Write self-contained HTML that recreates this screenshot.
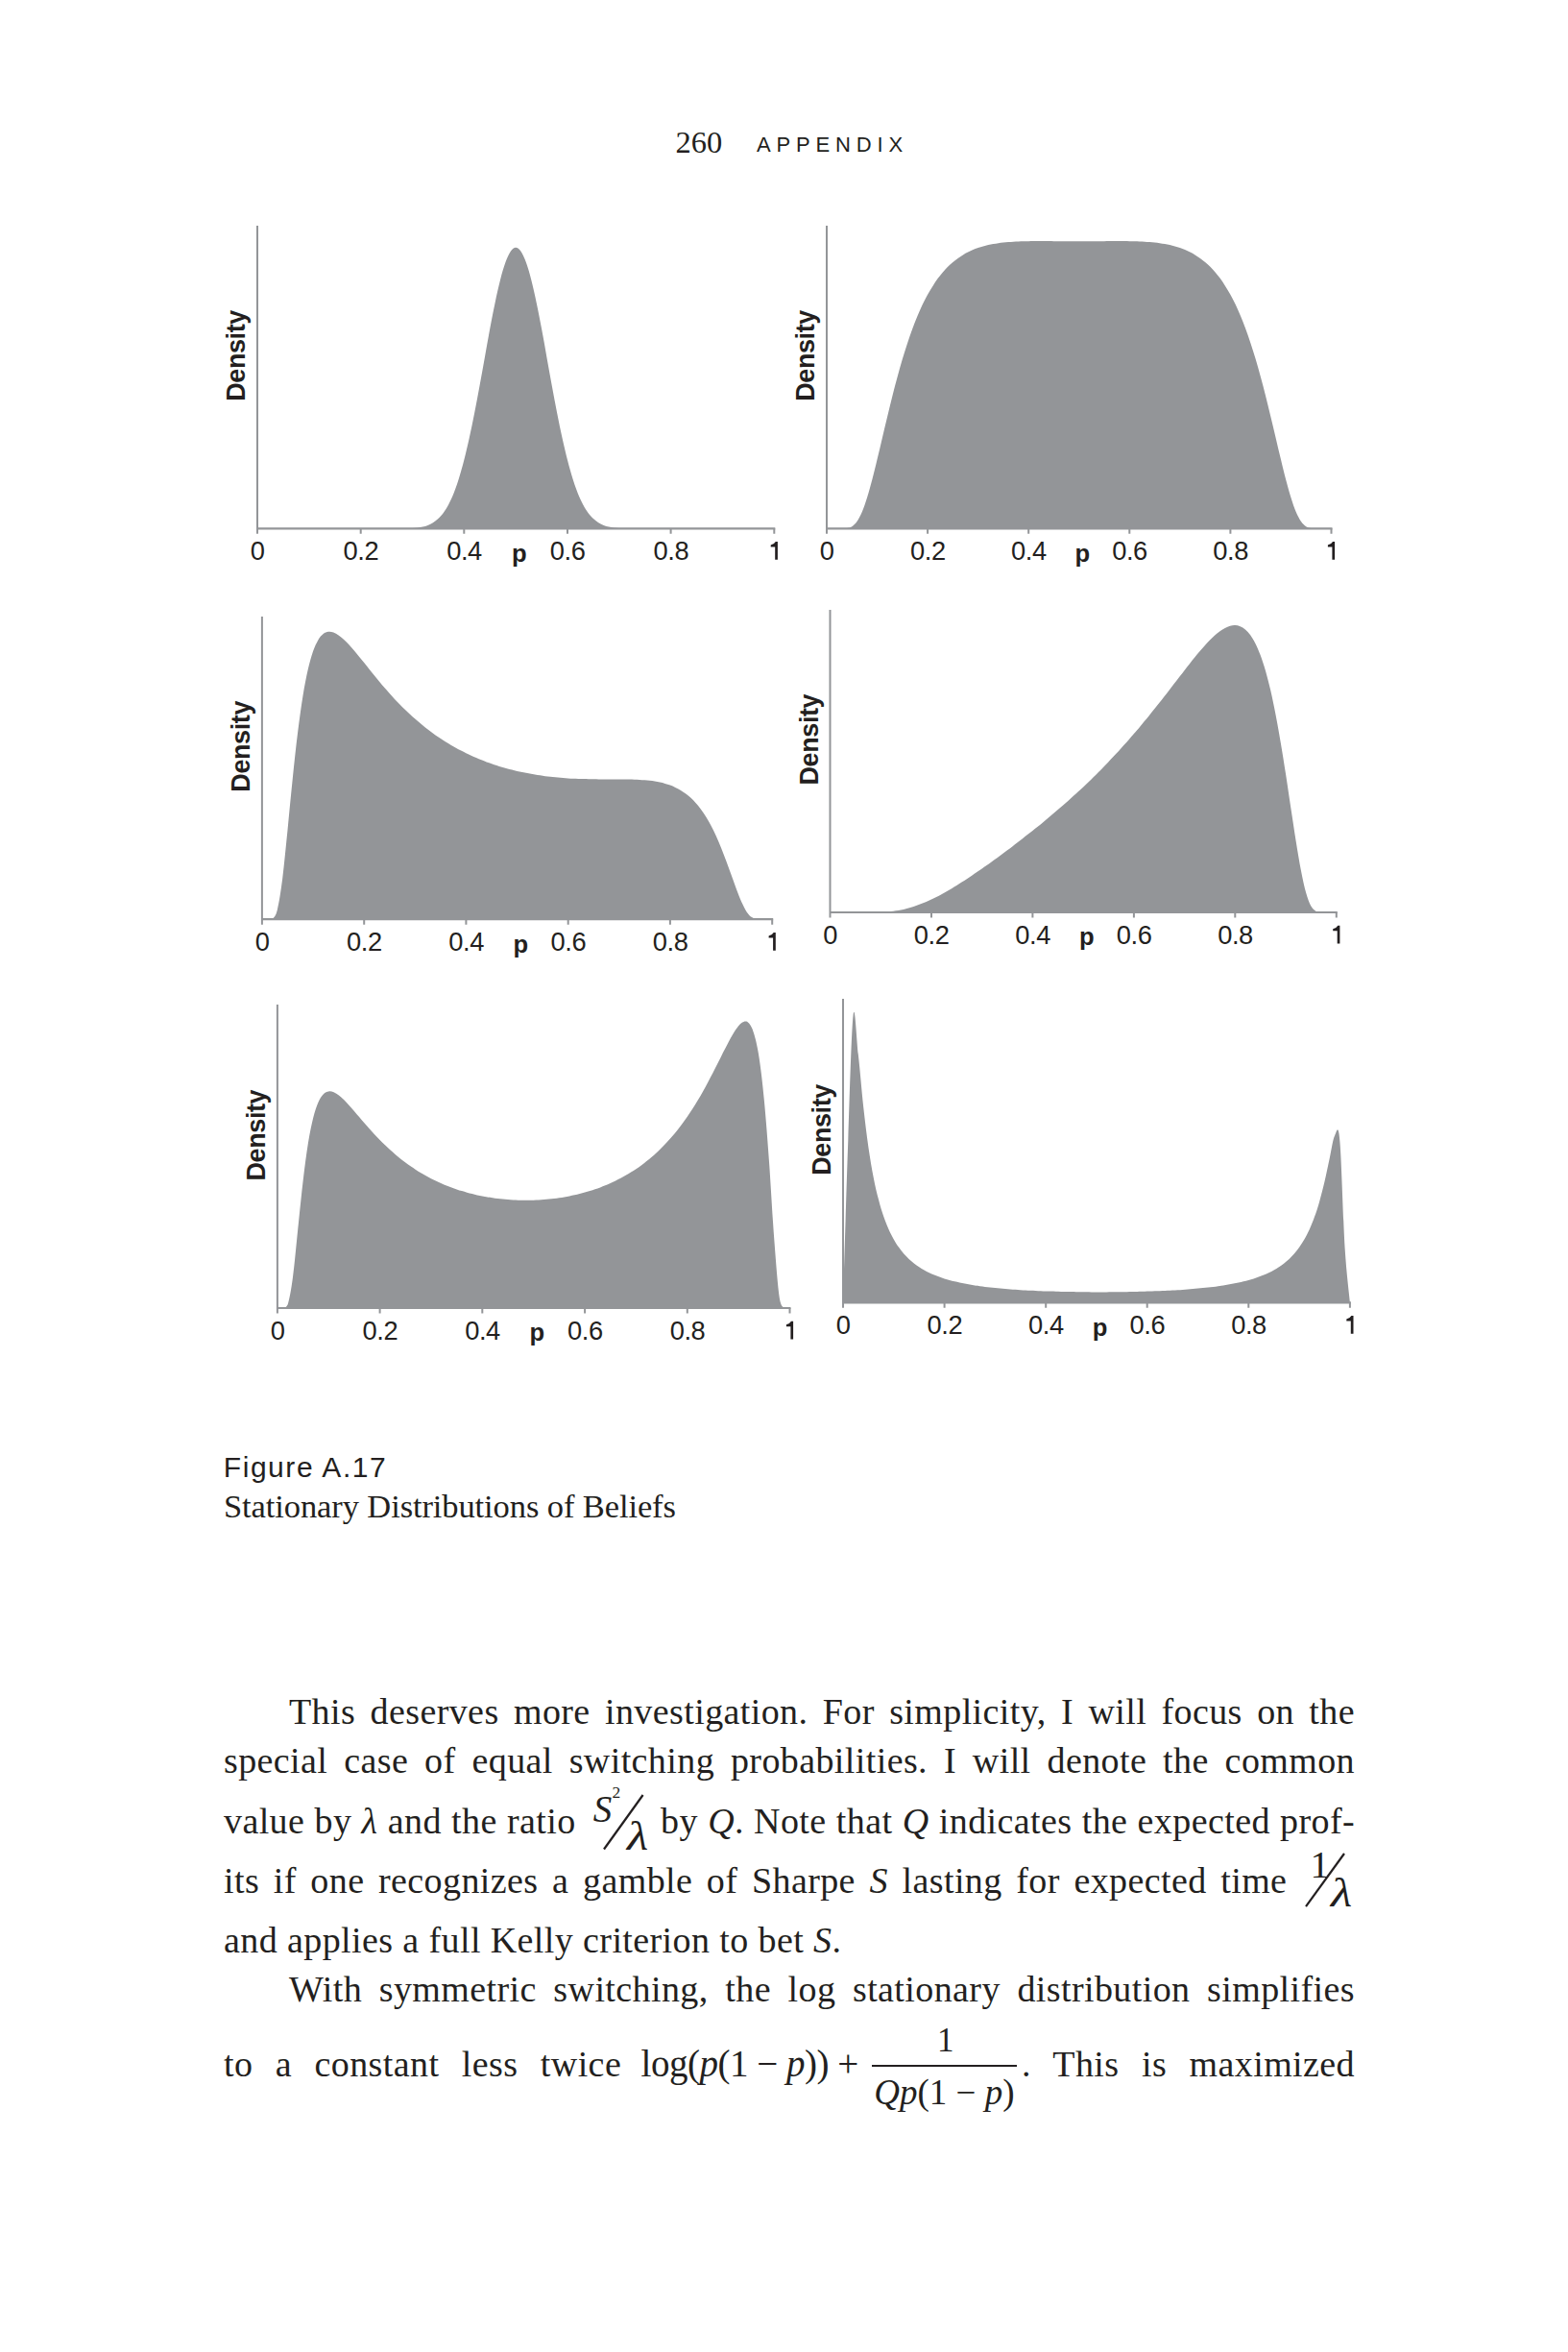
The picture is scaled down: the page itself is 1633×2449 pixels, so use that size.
<!DOCTYPE html>
<html><head><meta charset="utf-8">
<style>
html,body{margin:0;padding:0;background:#fff;}
body{width:1633px;height:2449px;position:relative;overflow:hidden;}
svg.page{position:absolute;left:0;top:0;}
.tk{font-family:"Liberation Sans",sans-serif;font-size:27.3px;letter-spacing:-0.4px;fill:#231f20;text-anchor:middle;}
.pl{font-family:"Liberation Sans",sans-serif;font-size:25.6px;font-weight:bold;fill:#231f20;text-anchor:middle;}
.dn{font-family:"Liberation Sans",sans-serif;font-size:27px;letter-spacing:-0.4px;font-weight:bold;fill:#231f20;}
.ab{position:absolute;white-space:nowrap;color:#231f20;}
.serif{font-family:"Liberation Serif",serif;}
.sans{font-family:"Liberation Sans",sans-serif;}
.ln{position:absolute;font-family:"Liberation Serif",serif;font-size:38px;line-height:38px;height:38px;letter-spacing:0.4px;color:#231f20;text-align:justify;text-align-last:justify;}
.ln.last{text-align:left;text-align-last:left;white-space:nowrap;}
i{font-style:italic;}
.ib{display:inline-block;position:relative;height:0;vertical-align:baseline;}
.mk{position:absolute;white-space:nowrap;}
</style></head><body>
<svg class="page" width="1633" height="2449" viewBox="0 0 1633 2449">
<path d="M268.0,550.3C268.9,550.3 271.6,550.3 273.4,550.3C275.2,550.3 277.0,550.3 278.8,550.3C280.6,550.3 282.4,550.3 284.1,550.3C285.9,550.3 287.7,550.3 289.5,550.3C291.3,550.3 293.1,550.3 294.9,550.3C296.7,550.3 298.5,550.3 300.3,550.3C302.1,550.3 303.9,550.3 305.7,550.3C307.5,550.3 309.3,550.3 311.1,550.3C312.9,550.3 314.7,550.3 316.4,550.3C318.2,550.3 320.0,550.3 321.8,550.3C323.6,550.3 325.4,550.3 327.2,550.3C329.0,550.3 330.8,550.3 332.6,550.3C334.4,550.3 336.2,550.3 338.0,550.3C339.8,550.3 341.6,550.3 343.4,550.3C345.2,550.3 347.0,550.3 348.7,550.3C350.5,550.3 352.3,550.3 354.1,550.3C355.9,550.3 357.7,550.3 359.5,550.3C361.3,550.3 363.1,550.3 364.9,550.3C366.7,550.3 368.5,550.3 370.3,550.3C372.1,550.3 373.9,550.3 375.7,550.3C377.5,550.3 379.2,550.3 381.0,550.3C382.8,550.3 384.6,550.3 386.4,550.3C388.2,550.3 390.0,550.3 391.8,550.3C393.6,550.3 395.4,550.3 397.2,550.3C399.0,550.3 400.8,550.3 402.6,550.3C404.4,550.3 406.2,550.3 408.0,550.3C409.8,550.3 411.5,550.3 413.3,550.3C415.1,550.3 416.9,550.2 418.7,550.2C420.5,550.2 422.3,550.2 424.1,550.1C425.9,550.0 427.7,550.0 429.5,549.9C431.3,549.7 433.1,549.6 434.9,549.4C436.7,549.1 438.5,548.9 440.3,548.5C442.1,548.0 443.8,547.6 445.6,546.9C447.4,546.2 449.2,545.4 451.0,544.2C452.8,543.1 454.6,541.8 456.4,540.1C458.2,538.4 460.0,536.5 461.8,534.0C463.6,531.6 465.4,528.8 467.2,525.3C469.0,521.9 470.8,518.1 472.6,513.6C474.3,509.0 476.1,504.0 477.9,498.2C479.7,492.5 481.5,486.1 483.3,479.1C485.1,472.1 486.9,464.5 488.7,456.3C490.5,448.2 492.3,439.4 494.1,430.3C495.9,421.2 497.7,411.5 499.5,401.8C501.3,392.1 503.1,381.9 504.9,372.0C506.6,362.2 508.4,352.1 510.2,342.6C512.0,333.1 513.8,323.7 515.6,315.2C517.4,306.6 519.2,298.5 521.0,291.5C522.8,284.5 524.6,278.2 526.4,273.3C528.2,268.3 530.0,264.3 531.8,261.7C533.6,259.2 535.4,257.8 537.1,257.8C538.9,257.8 540.7,259.2 542.5,261.7C544.3,264.3 546.1,268.3 547.9,273.3C549.7,278.2 551.5,284.5 553.3,291.5C555.1,298.5 556.9,306.6 558.7,315.2C560.5,323.7 562.3,333.1 564.1,342.6C565.9,352.1 567.7,362.2 569.4,372.0C571.2,381.9 573.0,392.1 574.8,401.8C576.6,411.5 578.4,421.2 580.2,430.3C582.0,439.4 583.8,448.2 585.6,456.3C587.4,464.5 589.2,472.1 591.0,479.1C592.8,486.1 594.6,492.5 596.4,498.2C598.2,504.0 600.0,509.0 601.7,513.6C603.5,518.1 605.3,521.9 607.1,525.3C608.9,528.8 610.7,531.6 612.5,534.0C614.3,536.5 616.1,538.4 617.9,540.1C619.7,541.8 621.5,543.1 623.3,544.2C625.1,545.4 626.9,546.2 628.7,546.9C630.5,547.6 632.2,548.0 634.0,548.5C635.8,548.9 637.6,549.1 639.4,549.4C641.2,549.6 643.0,549.7 644.8,549.9C646.6,550.0 648.4,550.0 650.2,550.1C652.0,550.2 653.8,550.2 655.6,550.2C657.4,550.2 659.2,550.3 661.0,550.3C662.8,550.3 664.5,550.3 666.3,550.3C668.1,550.3 669.9,550.3 671.7,550.3C673.5,550.3 675.3,550.3 677.1,550.3C678.9,550.3 680.7,550.3 682.5,550.3C684.3,550.3 686.1,550.3 687.9,550.3C689.7,550.3 691.5,550.3 693.3,550.3C695.1,550.3 696.8,550.3 698.6,550.3C700.4,550.3 702.2,550.3 704.0,550.3C705.8,550.3 707.6,550.3 709.4,550.3C711.2,550.3 713.0,550.3 714.8,550.3C716.6,550.3 718.4,550.3 720.2,550.3C722.0,550.3 723.8,550.3 725.6,550.3C727.3,550.3 729.1,550.3 730.9,550.3C732.7,550.3 734.5,550.3 736.3,550.3C738.1,550.3 739.9,550.3 741.7,550.3C743.5,550.3 745.3,550.3 747.1,550.3C748.9,550.3 750.7,550.3 752.5,550.3C754.3,550.3 756.1,550.3 757.9,550.3C759.6,550.3 761.4,550.3 763.2,550.3C765.0,550.3 766.8,550.3 768.6,550.3C770.4,550.3 772.2,550.3 774.0,550.3C775.8,550.3 777.6,550.3 779.4,550.3C781.2,550.3 783.0,550.3 784.8,550.3C786.6,550.3 788.4,550.3 790.2,550.3C791.9,550.3 793.7,550.3 795.5,550.3C797.3,550.3 799.1,550.3 800.9,550.3C802.7,550.3 805.4,550.3 806.3,550.3Z" fill="#939598"/>
<path d="M268.0,235.0V555.8" stroke="#939598" stroke-width="2" fill="none"/>
<path d="M268.0,550.3H807.3" stroke="#939598" stroke-width="2.2" fill="none"/>
<path d="M375.7,550.3V555.8M483.3,550.3V555.8M591.0,550.3V555.8M698.6,550.3V555.8M806.3,550.3V555.8" stroke="#939598" stroke-width="2" fill="none"/>
<text x="268.2" y="583.1" class="tk">0</text>
<text x="375.9" y="583.1" class="tk">0.2</text>
<text x="483.5" y="583.1" class="tk">0.4</text>
<text x="591.2" y="583.1" class="tk">0.6</text>
<text x="698.8" y="583.1" class="tk">0.8</text>
<path d="M807.2,582.8V569.6H802.7V567.6Q805.9,567.3 807.8,564.1H809.9V582.8Z" fill="#231f20"/>
<text x="540.9" y="584.6" class="pl">p</text>
<text transform="translate(255.0,417.8) rotate(-90)" class="dn">Density</text>
<path d="M861.0,550.3C861.9,550.3 864.5,550.3 866.3,550.3C868.0,550.3 869.8,550.3 871.5,550.3C873.3,550.3 875.0,550.3 876.8,550.3C878.5,550.2 880.3,550.3 882.0,550.0C883.8,549.7 885.5,549.4 887.3,548.3C889.0,547.1 890.8,545.6 892.5,543.1C894.3,540.5 896.0,537.2 897.8,533.1C899.5,528.9 901.3,523.8 903.0,518.2C904.8,512.7 906.5,506.2 908.3,499.6C910.0,493.0 911.8,485.7 913.5,478.5C915.3,471.3 917.1,463.7 918.8,456.3C920.6,448.9 922.3,441.4 924.1,434.1C925.8,426.9 927.6,419.7 929.3,412.7C931.1,405.8 932.8,399.0 934.6,392.6C936.3,386.2 938.1,380.0 939.8,374.1C941.6,368.2 943.3,362.6 945.1,357.3C946.8,352.0 948.6,346.9 950.3,342.2C952.1,337.5 953.8,333.0 955.6,328.8C957.3,324.7 959.1,320.8 960.8,317.1C962.6,313.4 964.3,310.0 966.1,306.8C967.9,303.6 969.6,300.6 971.4,297.9C973.1,295.1 974.9,292.5 976.6,290.1C978.4,287.7 980.1,285.6 981.9,283.5C983.6,281.4 985.4,279.6 987.1,277.8C988.9,276.1 990.6,274.5 992.4,273.0C994.1,271.5 995.9,270.1 997.6,268.9C999.4,267.6 1001.1,266.5 1002.9,265.4C1004.6,264.3 1006.4,263.4 1008.1,262.5C1009.9,261.6 1011.6,260.8 1013.4,260.1C1015.1,259.4 1016.9,258.7 1018.6,258.1C1020.4,257.5 1022.2,257.0 1023.9,256.5C1025.7,256.0 1027.4,255.5 1029.2,255.1C1030.9,254.8 1032.7,254.4 1034.4,254.1C1036.2,253.8 1037.9,253.5 1039.7,253.2C1041.4,253.0 1043.2,252.8 1044.9,252.6C1046.7,252.4 1048.4,252.2 1050.2,252.1C1051.9,252.0 1053.7,251.8 1055.4,251.7C1057.2,251.6 1058.9,251.5 1060.7,251.5C1062.4,251.4 1064.2,251.3 1065.9,251.3C1067.7,251.2 1069.4,251.2 1071.2,251.2C1073.0,251.2 1074.7,251.1 1076.5,251.1C1078.2,251.1 1080.0,251.1 1081.7,251.1C1083.5,251.1 1085.2,251.1 1087.0,251.1C1088.7,251.1 1090.5,251.1 1092.2,251.1C1094.0,251.1 1095.7,251.1 1097.5,251.2C1099.2,251.2 1101.0,251.2 1102.7,251.2C1104.5,251.2 1106.2,251.2 1108.0,251.2C1109.7,251.2 1111.5,251.2 1113.2,251.3C1115.0,251.3 1116.7,251.3 1118.5,251.3C1120.2,251.3 1122.0,251.3 1123.8,251.3C1125.5,251.3 1127.3,251.3 1129.0,251.3C1130.8,251.3 1132.5,251.3 1134.3,251.3C1136.0,251.2 1137.8,251.2 1139.5,251.2C1141.3,251.2 1143.0,251.2 1144.8,251.2C1146.5,251.2 1148.3,251.2 1150.0,251.2C1151.8,251.1 1153.5,251.1 1155.3,251.1C1157.0,251.1 1158.8,251.1 1160.5,251.1C1162.3,251.1 1164.0,251.1 1165.8,251.1C1167.5,251.1 1169.3,251.1 1171.0,251.1C1172.8,251.1 1174.5,251.2 1176.3,251.2C1178.1,251.2 1179.8,251.2 1181.6,251.3C1183.3,251.3 1185.1,251.4 1186.8,251.5C1188.6,251.5 1190.3,251.6 1192.1,251.7C1193.8,251.8 1195.6,252.0 1197.3,252.1C1199.1,252.2 1200.8,252.4 1202.6,252.6C1204.3,252.8 1206.1,253.0 1207.8,253.2C1209.6,253.5 1211.3,253.8 1213.1,254.1C1214.8,254.4 1216.6,254.8 1218.3,255.1C1220.1,255.5 1221.8,256.0 1223.6,256.5C1225.3,257.0 1227.1,257.5 1228.8,258.1C1230.6,258.7 1232.4,259.4 1234.1,260.1C1235.9,260.8 1237.6,261.6 1239.4,262.5C1241.1,263.4 1242.9,264.3 1244.6,265.4C1246.4,266.5 1248.1,267.6 1249.9,268.9C1251.6,270.1 1253.4,271.5 1255.1,273.0C1256.9,274.5 1258.6,276.1 1260.4,277.8C1262.1,279.6 1263.9,281.4 1265.6,283.5C1267.4,285.6 1269.1,287.7 1270.9,290.1C1272.6,292.5 1274.4,295.1 1276.1,297.9C1277.9,300.6 1279.6,303.6 1281.4,306.8C1283.2,310.0 1284.9,313.4 1286.7,317.1C1288.4,320.8 1290.2,324.7 1291.9,328.8C1293.7,333.0 1295.4,337.5 1297.2,342.2C1298.9,346.9 1300.7,352.0 1302.4,357.3C1304.2,362.6 1305.9,368.2 1307.7,374.1C1309.4,380.0 1311.2,386.2 1312.9,392.6C1314.7,399.0 1316.4,405.8 1318.2,412.7C1319.9,419.7 1321.7,426.9 1323.4,434.1C1325.2,441.4 1326.9,448.9 1328.7,456.3C1330.4,463.7 1332.2,471.3 1334.0,478.5C1335.7,485.7 1337.5,493.0 1339.2,499.6C1341.0,506.2 1342.7,512.7 1344.5,518.2C1346.2,523.8 1348.0,528.9 1349.7,533.1C1351.5,537.2 1353.2,540.5 1355.0,543.1C1356.7,545.6 1358.5,547.1 1360.2,548.3C1362.0,549.4 1363.7,549.7 1365.5,550.0C1367.2,550.3 1369.0,550.2 1370.7,550.3C1372.5,550.3 1374.2,550.3 1376.0,550.3C1377.7,550.3 1379.5,550.3 1381.2,550.3C1383.0,550.3 1385.6,550.3 1386.5,550.3Z" fill="#939598"/>
<path d="M861.0,235.0V555.8" stroke="#939598" stroke-width="2" fill="none"/>
<path d="M861.0,550.3H1387.5" stroke="#939598" stroke-width="2.2" fill="none"/>
<path d="M966.1,550.3V555.8M1071.2,550.3V555.8M1176.3,550.3V555.8M1281.4,550.3V555.8M1386.5,550.3V555.8" stroke="#939598" stroke-width="2" fill="none"/>
<text x="861.2" y="583.1" class="tk">0</text>
<text x="966.3" y="583.1" class="tk">0.2</text>
<text x="1071.4" y="583.1" class="tk">0.4</text>
<text x="1176.5" y="583.1" class="tk">0.6</text>
<text x="1281.6" y="583.1" class="tk">0.8</text>
<path d="M1387.4,582.8V569.6H1382.9V567.6Q1386.1,567.3 1388.0,564.1H1390.1V582.8Z" fill="#231f20"/>
<text x="1127.4" y="584.6" class="pl">p</text>
<text transform="translate(848.0,417.8) rotate(-90)" class="dn">Density</text>
<path d="M272.9,957.2C273.8,957.2 276.4,957.2 278.2,957.2C280.0,957.1 281.8,957.2 283.5,956.8C285.3,955.2 287.1,954.5 288.8,947.5C290.6,940.5 292.4,928.7 294.2,914.8C295.9,901.0 297.7,881.8 299.5,864.4C301.2,847.0 303.0,827.5 304.8,810.5C306.5,793.6 308.3,777.1 310.1,762.8C311.9,748.6 313.6,735.9 315.4,725.0C317.2,714.1 318.9,705.1 320.7,697.3C322.5,689.5 324.3,683.5 326.0,678.3C327.8,673.2 329.6,669.5 331.3,666.5C333.1,663.4 334.9,661.5 336.7,660.1C338.4,658.6 340.2,658.1 342.0,657.8C343.7,657.5 345.5,657.9 347.3,658.5C349.1,659.1 350.8,660.2 352.6,661.4C354.4,662.6 356.1,664.1 357.9,665.7C359.7,667.3 361.4,669.2 363.2,671.1C365.0,673.0 366.8,675.0 368.5,677.1C370.3,679.2 372.1,681.3 373.8,683.5C375.6,685.7 377.4,687.9 379.2,690.1C380.9,692.3 382.7,694.5 384.5,696.7C386.2,698.9 388.0,701.1 389.8,703.3C391.6,705.4 393.3,707.6 395.1,709.7C396.9,711.8 398.6,713.9 400.4,716.0C402.2,718.0 404.0,720.1 405.7,722.0C407.5,724.0 409.3,726.0 411.0,727.9C412.8,729.7 414.6,731.6 416.4,733.4C418.1,735.2 419.9,737.0 421.7,738.7C423.4,740.5 425.2,742.1 427.0,743.8C428.7,745.4 430.5,747.0 432.3,748.6C434.1,750.2 435.8,751.7 437.6,753.1C439.4,754.6 441.1,756.1 442.9,757.5C444.7,758.9 446.5,760.2 448.2,761.5C450.0,762.9 451.8,764.2 453.5,765.4C455.3,766.6 457.1,767.9 458.9,769.0C460.6,770.2 462.4,771.4 464.2,772.5C465.9,773.6 467.7,774.6 469.5,775.7C471.3,776.7 473.0,777.7 474.8,778.7C476.6,779.7 478.3,780.7 480.1,781.6C481.9,782.5 483.6,783.4 485.4,784.3C487.2,785.1 489.0,786.0 490.7,786.8C492.5,787.6 494.3,788.4 496.0,789.1C497.8,789.9 499.6,790.6 501.4,791.3C503.1,792.0 504.9,792.7 506.7,793.4C508.4,794.0 510.2,794.7 512.0,795.3C513.8,795.9 515.5,796.5 517.3,797.0C519.1,797.6 520.8,798.2 522.6,798.7C524.4,799.2 526.2,799.7 527.9,800.2C529.7,800.7 531.5,801.2 533.2,801.6C535.0,802.0 536.8,802.5 538.5,802.9C540.3,803.3 542.1,803.7 543.9,804.1C545.6,804.4 547.4,804.8 549.2,805.1C550.9,805.5 552.7,805.8 554.5,806.1C556.3,806.4 558.0,806.7 559.8,807.0C561.6,807.2 563.3,807.5 565.1,807.7C566.9,808.0 568.7,808.2 570.4,808.4C572.2,808.6 574.0,808.8 575.7,809.0C577.5,809.2 579.3,809.4 581.1,809.6C582.8,809.7 584.6,809.9 586.4,810.0C588.1,810.1 589.9,810.3 591.7,810.4C593.5,810.5 595.2,810.6 597.0,810.7C598.8,810.8 600.5,810.8 602.3,810.9C604.1,811.0 605.8,811.0 607.6,811.1C609.4,811.1 611.2,811.2 612.9,811.2C614.7,811.3 616.5,811.3 618.2,811.3C620.0,811.3 621.8,811.3 623.6,811.4C625.3,811.4 627.1,811.4 628.9,811.4C630.6,811.4 632.4,811.4 634.2,811.4C636.0,811.4 637.7,811.4 639.5,811.4C641.3,811.4 643.0,811.4 644.8,811.4C646.6,811.4 648.4,811.4 650.1,811.4C651.9,811.5 653.7,811.5 655.4,811.5C657.2,811.6 659.0,811.6 660.7,811.7C662.5,811.7 664.3,811.8 666.1,811.9C667.8,812.0 669.6,812.1 671.4,812.3C673.1,812.4 674.9,812.6 676.7,812.8C678.5,813.0 680.2,813.3 682.0,813.6C683.8,813.8 685.5,814.2 687.3,814.6C689.1,815.0 690.9,815.4 692.6,815.9C694.4,816.4 696.2,817.0 697.9,817.6C699.7,818.3 701.5,819.0 703.3,819.9C705.0,820.7 706.8,821.6 708.6,822.7C710.3,823.7 712.1,824.9 713.9,826.2C715.7,827.5 717.4,828.9 719.2,830.6C721.0,832.2 722.7,833.9 724.5,835.9C726.3,837.9 728.0,840.0 729.8,842.4C731.6,844.8 733.4,847.4 735.1,850.3C736.9,853.1 738.7,856.2 740.4,859.6C742.2,862.9 744.0,866.5 745.8,870.4C747.5,874.3 749.3,878.5 751.1,882.9C752.8,887.2 754.6,891.9 756.4,896.7C758.2,901.4 759.9,906.4 761.7,911.3C763.5,916.2 765.2,921.4 767.0,926.0C768.8,930.7 770.6,935.4 772.3,939.2C774.1,943.1 775.9,946.7 777.6,949.4C779.4,952.0 781.2,953.9 782.9,955.1C784.7,956.4 786.5,956.7 788.3,957.0C790.0,957.2 791.8,957.2 793.6,957.2C795.3,957.2 797.1,957.2 798.9,957.2C800.7,957.2 803.3,957.2 804.2,957.2Z" fill="#939598"/>
<path d="M272.9,642.0V962.7" stroke="#939598" stroke-width="2" fill="none"/>
<path d="M272.9,957.2H805.2" stroke="#939598" stroke-width="2.2" fill="none"/>
<path d="M379.2,957.2V962.7M485.4,957.2V962.7M591.7,957.2V962.7M697.9,957.2V962.7M804.2,957.2V962.7" stroke="#939598" stroke-width="2" fill="none"/>
<text x="273.1" y="990.0" class="tk">0</text>
<text x="379.4" y="990.0" class="tk">0.2</text>
<text x="485.6" y="990.0" class="tk">0.4</text>
<text x="591.9" y="990.0" class="tk">0.6</text>
<text x="698.1" y="990.0" class="tk">0.8</text>
<path d="M805.1,989.7V976.5H800.6V974.5Q803.8,974.2 805.7,971.0H807.8V989.7Z" fill="#231f20"/>
<text x="542.3" y="991.5" class="pl">p</text>
<text transform="translate(259.9,824.7) rotate(-90)" class="dn">Density</text>
<path d="M864.5,950.0C865.4,950.0 868.0,950.0 869.8,950.0C871.5,950.0 873.3,950.0 875.0,950.0C876.8,950.0 878.6,950.0 880.3,950.0C882.1,950.0 883.8,950.0 885.6,950.0C887.3,950.0 889.1,950.0 890.9,950.0C892.6,950.0 894.4,950.0 896.1,950.0C897.9,950.0 899.7,950.0 901.4,950.0C903.2,950.0 904.9,950.0 906.7,950.0C908.4,950.0 910.2,949.9 912.0,949.9C913.7,949.9 915.5,949.8 917.2,949.7C919.0,949.7 920.7,949.6 922.5,949.5C924.3,949.3 926.0,949.2 927.8,949.0C929.5,948.8 931.3,948.6 933.0,948.3C934.8,948.0 936.6,947.7 938.3,947.4C940.1,947.0 941.8,946.7 943.6,946.2C945.4,945.8 947.1,945.3 948.9,944.8C950.6,944.3 952.4,943.7 954.1,943.1C955.9,942.5 957.7,941.8 959.4,941.1C961.2,940.4 962.9,939.7 964.7,939.0C966.4,938.2 968.2,937.4 970.0,936.6C971.7,935.7 973.5,934.9 975.2,934.0C977.0,933.1 978.7,932.1 980.5,931.2C982.3,930.2 984.0,929.2 985.8,928.2C987.5,927.2 989.3,926.2 991.1,925.2C992.8,924.1 994.6,923.0 996.3,922.0C998.1,920.9 999.8,919.8 1001.6,918.6C1003.4,917.5 1005.1,916.4 1006.9,915.2C1008.6,914.1 1010.4,912.9 1012.1,911.7C1013.9,910.5 1015.7,909.3 1017.4,908.1C1019.2,906.9 1020.9,905.7 1022.7,904.5C1024.4,903.2 1026.2,902.0 1028.0,900.8C1029.7,899.5 1031.5,898.3 1033.2,897.0C1035.0,895.7 1036.8,894.4 1038.5,893.2C1040.3,891.9 1042.0,890.6 1043.8,889.3C1045.5,888.0 1047.3,886.7 1049.1,885.3C1050.8,884.0 1052.6,882.7 1054.3,881.4C1056.1,880.0 1057.8,878.7 1059.6,877.3C1061.4,876.0 1063.1,874.6 1064.9,873.3C1066.6,871.9 1068.4,870.5 1070.1,869.1C1071.9,867.7 1073.7,866.3 1075.4,864.9C1077.2,863.5 1078.9,862.1 1080.7,860.7C1082.5,859.3 1084.2,857.8 1086.0,856.4C1087.7,855.0 1089.5,853.5 1091.2,852.0C1093.0,850.6 1094.8,849.1 1096.5,847.6C1098.3,846.1 1100.0,844.6 1101.8,843.1C1103.5,841.6 1105.3,840.1 1107.1,838.5C1108.8,837.0 1110.6,835.4 1112.3,833.9C1114.1,832.3 1115.8,830.7 1117.6,829.1C1119.4,827.5 1121.1,825.9 1122.9,824.3C1124.6,822.7 1126.4,821.0 1128.2,819.4C1129.9,817.7 1131.7,816.1 1133.4,814.4C1135.2,812.7 1136.9,811.0 1138.7,809.2C1140.5,807.5 1142.2,805.8 1144.0,804.0C1145.7,802.3 1147.5,800.5 1149.2,798.7C1151.0,796.9 1152.8,795.1 1154.5,793.2C1156.3,791.4 1158.0,789.5 1159.8,787.6C1161.5,785.8 1163.3,783.9 1165.1,782.0C1166.8,780.0 1168.6,778.1 1170.3,776.1C1172.1,774.2 1173.8,772.2 1175.6,770.2C1177.4,768.2 1179.1,766.2 1180.9,764.1C1182.6,762.1 1184.4,760.0 1186.2,757.9C1187.9,755.8 1189.7,753.7 1191.4,751.6C1193.2,749.5 1194.9,747.3 1196.7,745.2C1198.5,743.0 1200.2,740.8 1202.0,738.6C1203.7,736.4 1205.5,734.2 1207.2,732.0C1209.0,729.7 1210.8,727.5 1212.5,725.2C1214.3,723.0 1216.0,720.7 1217.8,718.4C1219.5,716.2 1221.3,713.9 1223.1,711.6C1224.8,709.3 1226.6,707.0 1228.3,704.7C1230.1,702.5 1231.9,700.2 1233.6,697.9C1235.4,695.7 1237.1,693.4 1238.9,691.2C1240.6,689.0 1242.4,686.8 1244.2,684.6C1245.9,682.5 1247.7,680.3 1249.4,678.3C1251.2,676.2 1252.9,674.2 1254.7,672.2C1256.5,670.3 1258.2,668.4 1260.0,666.6C1261.7,664.9 1263.5,663.2 1265.2,661.6C1267.0,660.1 1268.8,658.6 1270.5,657.3C1272.3,656.1 1274.0,654.9 1275.8,654.0C1277.6,653.1 1279.3,652.3 1281.1,651.8C1282.8,651.3 1284.6,651.0 1286.3,651.1C1288.1,651.2 1289.9,651.5 1291.6,652.2C1293.4,652.9 1295.1,653.9 1296.9,655.4C1298.6,656.9 1300.4,658.8 1302.2,661.2C1303.9,663.6 1305.7,666.5 1307.4,670.0C1309.2,673.5 1310.9,677.6 1312.7,682.3C1314.5,687.1 1316.2,692.5 1318.0,698.6C1319.7,704.7 1321.5,711.5 1323.3,719.1C1325.0,726.7 1326.8,735.1 1328.5,744.1C1330.3,753.2 1332.0,763.1 1333.8,773.4C1335.6,783.8 1337.3,795.0 1339.1,806.3C1340.8,817.5 1342.6,829.6 1344.3,841.1C1346.1,852.7 1347.9,864.7 1349.6,875.6C1351.4,886.5 1353.1,897.3 1354.9,906.3C1356.6,915.3 1358.4,923.5 1360.2,929.7C1361.9,935.9 1363.7,940.4 1365.4,943.6C1367.2,946.8 1369.0,947.9 1370.7,949.0C1372.5,950.0 1374.2,949.8 1376.0,950.0C1377.7,950.0 1379.5,950.0 1381.3,950.0C1383.0,950.0 1384.8,950.0 1386.5,950.0C1388.3,950.0 1390.9,950.0 1391.8,950.0Z" fill="#939598"/>
<path d="M864.5,635.0V955.5" stroke="#939598" stroke-width="2" fill="none"/>
<path d="M864.5,950.0H1392.8" stroke="#939598" stroke-width="2.2" fill="none"/>
<path d="M970.0,950.0V955.5M1075.4,950.0V955.5M1180.9,950.0V955.5M1286.3,950.0V955.5M1391.8,950.0V955.5" stroke="#939598" stroke-width="2" fill="none"/>
<text x="864.7" y="982.8" class="tk">0</text>
<text x="970.2" y="982.8" class="tk">0.2</text>
<text x="1075.6" y="982.8" class="tk">0.4</text>
<text x="1181.1" y="982.8" class="tk">0.6</text>
<text x="1286.5" y="982.8" class="tk">0.8</text>
<path d="M1392.7,982.5V969.3H1388.2V967.3Q1391.4,967.0 1393.3,963.8H1395.4V982.5Z" fill="#231f20"/>
<text x="1131.8" y="984.3" class="pl">p</text>
<text transform="translate(851.5,817.5) rotate(-90)" class="dn">Density</text>
<path d="M288.9,1362.0C289.8,1362.0 292.5,1362.0 294.2,1362.0C296.0,1361.4 297.8,1362.0 299.6,1358.6C301.4,1353.3 303.1,1343.6 304.9,1330.5C306.7,1317.4 308.5,1297.0 310.2,1280.2C312.0,1263.3 313.8,1244.6 315.6,1229.7C317.4,1214.7 319.1,1201.3 320.9,1190.3C322.7,1179.2 324.5,1170.7 326.3,1163.5C328.0,1156.4 329.8,1151.5 331.6,1147.4C333.4,1143.4 335.1,1141.0 336.9,1139.2C338.7,1137.3 340.5,1136.7 342.3,1136.4C344.0,1136.1 345.8,1136.6 347.6,1137.3C349.4,1138.0 351.2,1139.2 352.9,1140.6C354.7,1141.9 356.5,1143.6 358.3,1145.3C360.0,1147.0 361.8,1149.0 363.6,1150.9C365.4,1152.9 367.2,1155.0 368.9,1157.0C370.7,1159.1 372.5,1161.2 374.3,1163.2C376.1,1165.3 377.8,1167.4 379.6,1169.5C381.4,1171.5 383.2,1173.5 384.9,1175.5C386.7,1177.5 388.5,1179.5 390.3,1181.4C392.1,1183.3 393.8,1185.2 395.6,1187.0C397.4,1188.8 399.2,1190.6 401.0,1192.3C402.7,1194.0 404.5,1195.7 406.3,1197.3C408.1,1198.9 409.8,1200.4 411.6,1202.0C413.4,1203.5 415.2,1204.9 417.0,1206.4C418.7,1207.8 420.5,1209.2 422.3,1210.5C424.1,1211.8 425.9,1213.1 427.6,1214.3C429.4,1215.6 431.2,1216.7 433.0,1217.9C434.8,1219.0 436.5,1220.1 438.3,1221.2C440.1,1222.3 441.9,1223.3 443.6,1224.3C445.4,1225.3 447.2,1226.2 449.0,1227.2C450.8,1228.1 452.5,1228.9 454.3,1229.8C456.1,1230.6 457.9,1231.5 459.7,1232.2C461.4,1233.0 463.2,1233.8 465.0,1234.5C466.8,1235.2 468.5,1235.9 470.3,1236.5C472.1,1237.2 473.9,1237.8 475.7,1238.4C477.4,1239.0 479.2,1239.6 481.0,1240.1C482.8,1240.7 484.6,1241.2 486.3,1241.7C488.1,1242.2 489.9,1242.7 491.7,1243.1C493.4,1243.5 495.2,1244.0 497.0,1244.4C498.8,1244.8 500.6,1245.1 502.3,1245.5C504.1,1245.8 505.9,1246.2 507.7,1246.5C509.5,1246.8 511.2,1247.0 513.0,1247.3C514.8,1247.6 516.6,1247.8 518.3,1248.0C520.1,1248.3 521.9,1248.5 523.7,1248.6C525.5,1248.8 527.2,1249.0 529.0,1249.1C530.8,1249.2 532.6,1249.4 534.4,1249.5C536.1,1249.6 537.9,1249.6 539.7,1249.7C541.5,1249.8 543.2,1249.8 545.0,1249.8C546.8,1249.8 548.6,1249.8 550.4,1249.8C552.1,1249.8 553.9,1249.8 555.7,1249.7C557.5,1249.6 559.3,1249.6 561.0,1249.5C562.8,1249.4 564.6,1249.2 566.4,1249.1C568.2,1249.0 569.9,1248.8 571.7,1248.6C573.5,1248.4 575.3,1248.2 577.0,1248.0C578.8,1247.8 580.6,1247.6 582.4,1247.3C584.2,1247.0 585.9,1246.7 587.7,1246.4C589.5,1246.1 591.3,1245.8 593.1,1245.4C594.8,1245.1 596.6,1244.7 598.4,1244.3C600.2,1243.9 601.9,1243.5 603.7,1243.0C605.5,1242.6 607.3,1242.1 609.1,1241.6C610.8,1241.1 612.6,1240.6 614.4,1240.0C616.2,1239.5 618.0,1238.9 619.7,1238.3C621.5,1237.7 623.3,1237.0 625.1,1236.4C626.8,1235.7 628.6,1235.0 630.4,1234.3C632.2,1233.5 634.0,1232.8 635.7,1232.0C637.5,1231.2 639.3,1230.3 641.1,1229.5C642.9,1228.6 644.6,1227.7 646.4,1226.8C648.2,1225.8 650.0,1224.8 651.7,1223.8C653.5,1222.8 655.3,1221.7 657.1,1220.6C658.9,1219.5 660.6,1218.4 662.4,1217.2C664.2,1216.0 666.0,1214.7 667.8,1213.4C669.5,1212.1 671.3,1210.8 673.1,1209.3C674.9,1207.9 676.6,1206.5 678.4,1205.0C680.2,1203.4 682.0,1201.9 683.8,1200.2C685.5,1198.6 687.3,1196.9 689.1,1195.1C690.9,1193.3 692.7,1191.5 694.4,1189.6C696.2,1187.7 698.0,1185.7 699.8,1183.6C701.6,1181.5 703.3,1179.4 705.1,1177.2C706.9,1174.9 708.7,1172.6 710.4,1170.2C712.2,1167.8 714.0,1165.3 715.8,1162.7C717.6,1160.2 719.3,1157.5 721.1,1154.7C722.9,1151.9 724.7,1149.1 726.5,1146.1C728.2,1143.2 730.0,1140.1 731.8,1136.9C733.6,1133.8 735.3,1130.6 737.1,1127.2C738.9,1123.9 740.7,1120.5 742.5,1117.1C744.2,1113.6 746.0,1110.0 747.8,1106.5C749.6,1103.0 751.4,1099.4 753.1,1095.8C754.9,1092.3 756.7,1088.8 758.5,1085.4C760.2,1082.1 762.0,1078.8 763.8,1075.9C765.6,1073.0 767.4,1070.2 769.1,1068.2C770.9,1066.2 772.7,1064.4 774.5,1063.9C776.3,1063.4 778.0,1063.3 779.8,1065.3C781.6,1067.3 783.4,1070.1 785.1,1076.0C786.9,1081.9 788.7,1089.2 790.5,1100.7C792.3,1112.3 794.0,1126.5 795.8,1145.2C797.6,1163.8 799.4,1187.8 801.2,1212.5C802.9,1237.2 804.7,1270.1 806.5,1293.3C808.3,1316.4 810.0,1340.0 811.8,1351.5C813.6,1362.0 815.4,1360.2 817.2,1362.0C818.9,1362.0 821.6,1362.0 822.5,1362.0Z" fill="#939598"/>
<path d="M288.9,1046.0V1367.5" stroke="#939598" stroke-width="2" fill="none"/>
<path d="M288.9,1362.0H823.5" stroke="#939598" stroke-width="2.2" fill="none"/>
<path d="M395.6,1362.0V1367.5M502.3,1362.0V1367.5M609.1,1362.0V1367.5M715.8,1362.0V1367.5M822.5,1362.0V1367.5" stroke="#939598" stroke-width="2" fill="none"/>
<text x="289.1" y="1394.8" class="tk">0</text>
<text x="395.8" y="1394.8" class="tk">0.2</text>
<text x="502.5" y="1394.8" class="tk">0.4</text>
<text x="609.3" y="1394.8" class="tk">0.6</text>
<text x="716.0" y="1394.8" class="tk">0.8</text>
<path d="M823.4,1394.5V1381.3H818.9V1379.3Q822.1,1379.0 824.0,1375.8H826.1V1394.5Z" fill="#231f20"/>
<text x="559.4" y="1396.3" class="pl">p</text>
<text transform="translate(275.9,1229.5) rotate(-90)" class="dn">Density</text>
<path d="M878.0,1356.3C878.9,1328.1 881.5,1237.1 883.3,1187.2C885.0,1137.3 886.8,1071.8 888.6,1056.9C890.3,1042.0 892.1,1082.0 893.8,1097.8C895.6,1113.6 897.4,1135.6 899.1,1151.7C900.9,1167.8 902.6,1182.0 904.4,1194.4C906.2,1206.7 907.9,1216.7 909.7,1225.9C911.4,1235.0 913.2,1242.3 915.0,1249.1C916.7,1255.9 918.5,1261.5 920.2,1266.6C922.0,1271.7 923.8,1276.0 925.5,1280.0C927.3,1284.0 929.0,1287.3 930.8,1290.4C932.5,1293.6 934.3,1296.2 936.1,1298.7C937.8,1301.2 939.6,1303.4 941.3,1305.4C943.1,1307.4 944.9,1309.2 946.6,1310.9C948.4,1312.6 950.1,1314.0 951.9,1315.4C953.7,1316.8 955.4,1318.1 957.2,1319.2C958.9,1320.4 960.7,1321.4 962.5,1322.4C964.2,1323.4 966.0,1324.3 967.7,1325.2C969.5,1326.0 971.3,1326.8 973.0,1327.5C974.8,1328.3 976.5,1328.9 978.3,1329.6C980.1,1330.2 981.8,1330.8 983.6,1331.4C985.3,1331.9 987.1,1332.4 988.9,1332.9C990.6,1333.4 992.4,1333.9 994.1,1334.3C995.9,1334.7 997.7,1335.1 999.4,1335.5C1001.2,1335.9 1002.9,1336.2 1004.7,1336.6C1006.5,1336.9 1008.2,1337.2 1010.0,1337.6C1011.7,1337.9 1013.5,1338.1 1015.3,1338.4C1017.0,1338.7 1018.8,1338.9 1020.5,1339.2C1022.3,1339.4 1024.1,1339.7 1025.8,1339.9C1027.6,1340.1 1029.3,1340.3 1031.1,1340.5C1032.9,1340.7 1034.6,1340.9 1036.4,1341.1C1038.1,1341.3 1039.9,1341.4 1041.6,1341.6C1043.4,1341.7 1045.2,1341.9 1046.9,1342.0C1048.7,1342.2 1050.4,1342.3 1052.2,1342.5C1054.0,1342.6 1055.7,1342.7 1057.5,1342.8C1059.2,1343.0 1061.0,1343.1 1062.8,1343.2C1064.5,1343.3 1066.3,1343.4 1068.0,1343.5C1069.8,1343.6 1071.6,1343.7 1073.3,1343.8C1075.1,1343.9 1076.8,1343.9 1078.6,1344.0C1080.4,1344.1 1082.1,1344.2 1083.9,1344.2C1085.6,1344.3 1087.4,1344.4 1089.2,1344.4C1090.9,1344.5 1092.7,1344.6 1094.4,1344.6C1096.2,1344.7 1098.0,1344.7 1099.7,1344.8C1101.5,1344.8 1103.2,1344.9 1105.0,1344.9C1106.8,1345.0 1108.5,1345.0 1110.3,1345.0C1112.0,1345.1 1113.8,1345.1 1115.6,1345.1C1117.3,1345.2 1119.1,1345.2 1120.8,1345.2C1122.6,1345.2 1124.4,1345.3 1126.1,1345.3C1127.9,1345.3 1129.6,1345.3 1131.4,1345.3C1133.2,1345.4 1134.9,1345.4 1136.7,1345.4C1138.4,1345.4 1140.2,1345.4 1142.0,1345.4C1143.7,1345.4 1145.5,1345.4 1147.2,1345.4C1149.0,1345.4 1150.7,1345.4 1152.5,1345.4C1154.3,1345.4 1156.0,1345.4 1157.8,1345.3C1159.5,1345.3 1161.3,1345.3 1163.1,1345.3C1164.8,1345.3 1166.6,1345.3 1168.3,1345.2C1170.1,1345.2 1171.9,1345.2 1173.6,1345.2C1175.4,1345.1 1177.1,1345.1 1178.9,1345.1C1180.7,1345.0 1182.4,1345.0 1184.2,1344.9C1185.9,1344.9 1187.7,1344.8 1189.5,1344.8C1191.2,1344.8 1193.0,1344.7 1194.7,1344.6C1196.5,1344.6 1198.3,1344.5 1200.0,1344.5C1201.8,1344.4 1203.5,1344.3 1205.3,1344.3C1207.1,1344.2 1208.8,1344.1 1210.6,1344.0C1212.3,1344.0 1214.1,1343.9 1215.9,1343.8C1217.6,1343.7 1219.4,1343.6 1221.1,1343.5C1222.9,1343.4 1224.7,1343.3 1226.4,1343.2C1228.2,1343.1 1229.9,1343.0 1231.7,1342.9C1233.5,1342.7 1235.2,1342.6 1237.0,1342.5C1238.7,1342.4 1240.5,1342.2 1242.3,1342.1C1244.0,1341.9 1245.8,1341.8 1247.5,1341.6C1249.3,1341.5 1251.0,1341.3 1252.8,1341.1C1254.6,1340.9 1256.3,1340.7 1258.1,1340.5C1259.8,1340.3 1261.6,1340.1 1263.4,1339.9C1265.1,1339.7 1266.9,1339.5 1268.6,1339.2C1270.4,1339.0 1272.2,1338.7 1273.9,1338.4C1275.7,1338.2 1277.4,1337.9 1279.2,1337.6C1281.0,1337.3 1282.7,1337.0 1284.5,1336.6C1286.2,1336.3 1288.0,1335.9 1289.8,1335.5C1291.5,1335.2 1293.3,1334.8 1295.0,1334.3C1296.8,1333.9 1298.6,1333.4 1300.3,1333.0C1302.1,1332.5 1303.8,1331.9 1305.6,1331.4C1307.4,1330.8 1309.1,1330.2 1310.9,1329.6C1312.6,1329.0 1314.4,1328.3 1316.2,1327.6C1317.9,1326.8 1319.7,1326.0 1321.4,1325.2C1323.2,1324.3 1325.0,1323.4 1326.7,1322.4C1328.5,1321.4 1330.2,1320.4 1332.0,1319.2C1333.8,1318.0 1335.5,1316.8 1337.3,1315.4C1339.0,1314.0 1340.8,1312.5 1342.6,1310.9C1344.3,1309.2 1346.1,1307.4 1347.8,1305.4C1349.6,1303.3 1351.4,1301.2 1353.1,1298.7C1354.9,1296.2 1356.6,1293.6 1358.4,1290.5C1360.1,1287.4 1361.9,1284.1 1363.7,1280.2C1365.4,1276.4 1367.2,1272.2 1368.9,1267.3C1370.7,1262.4 1372.5,1257.1 1374.2,1250.9C1376.0,1244.7 1377.7,1237.8 1379.5,1230.3C1381.3,1222.7 1383.0,1213.7 1384.8,1205.7C1386.5,1197.7 1388.3,1185.4 1390.1,1182.4C1391.8,1179.4 1393.6,1168.0 1395.3,1187.5C1397.1,1207.1 1398.9,1271.5 1400.6,1299.6C1402.4,1327.7 1405.0,1346.9 1405.9,1356.3Z" fill="#939598"/>
<path d="M878.0,1040.0V1361.8" stroke="#939598" stroke-width="2" fill="none"/>
<path d="M878.0,1356.3H1406.9" stroke="#939598" stroke-width="2.2" fill="none"/>
<path d="M983.6,1356.3V1361.8M1089.2,1356.3V1361.8M1194.7,1356.3V1361.8M1300.3,1356.3V1361.8M1405.9,1356.3V1361.8" stroke="#939598" stroke-width="2" fill="none"/>
<text x="878.2" y="1389.1" class="tk">0</text>
<text x="983.8" y="1389.1" class="tk">0.2</text>
<text x="1089.4" y="1389.1" class="tk">0.4</text>
<text x="1194.9" y="1389.1" class="tk">0.6</text>
<text x="1300.5" y="1389.1" class="tk">0.8</text>
<path d="M1406.8,1388.8V1375.6H1402.3V1373.6Q1405.5,1373.3 1407.4,1370.1H1409.5V1388.8Z" fill="#231f20"/>
<text x="1145.6" y="1390.6" class="pl">p</text>
<text transform="translate(865.0,1223.8) rotate(-90)" class="dn">Density</text>
</svg>
<div class="ab serif" style="left:703.4px;top:131.5px;font-size:32.5px;line-height:32.5px;">260</div>
<div class="ab sans" style="left:788.0px;top:140.1px;font-size:22.0px;line-height:22.0px;letter-spacing:5.85px;">APPENDIX</div>
<div class="ab sans" style="left:232.8px;top:1513.2px;font-size:30.0px;line-height:30.0px;letter-spacing:1.55px;">Figure A.17</div>
<div class="ab serif" style="left:233.0px;top:1550.6px;font-size:34.5px;line-height:34.5px;letter-spacing:-0.1px;">Stationary Distributions of Beliefs</div>
<div class="ln" style="top:1763.1px;left:301.0px;width:1110.0px">This deserves more investigation. For simplicity, I will focus on the</div>
<div class="ln" style="top:1813.9px;left:233.0px;width:1178.0px">special case of equal switching probabilities. I will denote the common</div>
<div class="ln" style="top:1876.8px;left:233.0px;width:1178.0px">value by <i>λ</i> and the ratio <span class="ib" style="width:60.0px;margin-left:8.0px"><span class="mk" style="left:0.0px;top:-44.9px;font-size:39.0px;line-height:39.0px;font-style:italic;">S</span><span class="mk" style="left:19.8px;top:-50.8px;font-size:17.5px;line-height:17.5px;">2</span><svg class="mk" style="left:7.8px;top:-42.4px" width="46.6" height="62.5"><path d="M3.0,59.5L43.6,3.0" stroke="#231f20" stroke-width="2.2"/></svg><span class="mk" style="left:35.5px;top:-18.1px;font-size:42.0px;line-height:42.0px;font-style:italic;transform:scaleX(1.22);transform-origin:0 0;">λ</span></span> by <i>Q</i>. Note that <i>Q</i> indicates the expected prof-</div>
<div class="ln" style="top:1938.8px;left:233.0px;width:1174.0px">its if one recognizes a gamble of Sharpe <i>S</i> lasting for expected time <span class="ib" style="width:39.0px;margin-left:13.0px"><span class="mk" style="left:-3.5px;top:-48.9px;font-size:40.0px;line-height:40.0px;">1</span><svg class="mk" style="left:-11.0px;top:-43.9px" width="46.0" height="61.1"><path d="M3.0,58.1L43.0,3.0" stroke="#231f20" stroke-width="2.2"/></svg><span class="mk" style="left:17.5px;top:-21.0px;font-size:42.0px;line-height:42.0px;font-style:italic;transform:scaleX(1.22);transform-origin:0 0;">λ</span></span></div>
<div class="ln last" style="top:2001.4px;left:233.0px;width:1178.0px">and applies a full Kelly criterion to bet <i>S</i>.</div>
<div class="ln" style="top:2052.4px;left:301.0px;width:1110.0px">With symmetric switching, the log stationary distribution simplifies</div>
<div class="ln" style="top:2130.0px;left:233.0px;width:1178.0px">to a constant less twice <span class="ib" style="width:403.0px;margin-left:0.0px"><span class="mk" style="left:-3.0px;top:-32.7px;font-size:39.0px;line-height:39.0px;letter-spacing:-0.5px;">log(<i>p</i>(1 − <i>p</i>)) +</span><span class="mk" style="left:237.2px;top:-11.6px;width:151.7px;height:2px;background:#231f20"></span><span class="mk" style="left:305.5px;top:-54.6px;font-size:35.0px;line-height:35.0px;">1</span><span class="mk" style="left:239.7px;top:-2.3px;font-size:37.0px;line-height:37.0px;letter-spacing:0;"><i>Q</i><i>p</i>(1 − <i>p</i>)</span><span class="mk" style="left:393.4px;top:-31.8px;font-size:38.0px;line-height:38.0px;">.</span></span> This is maximized</div>
</body></html>
